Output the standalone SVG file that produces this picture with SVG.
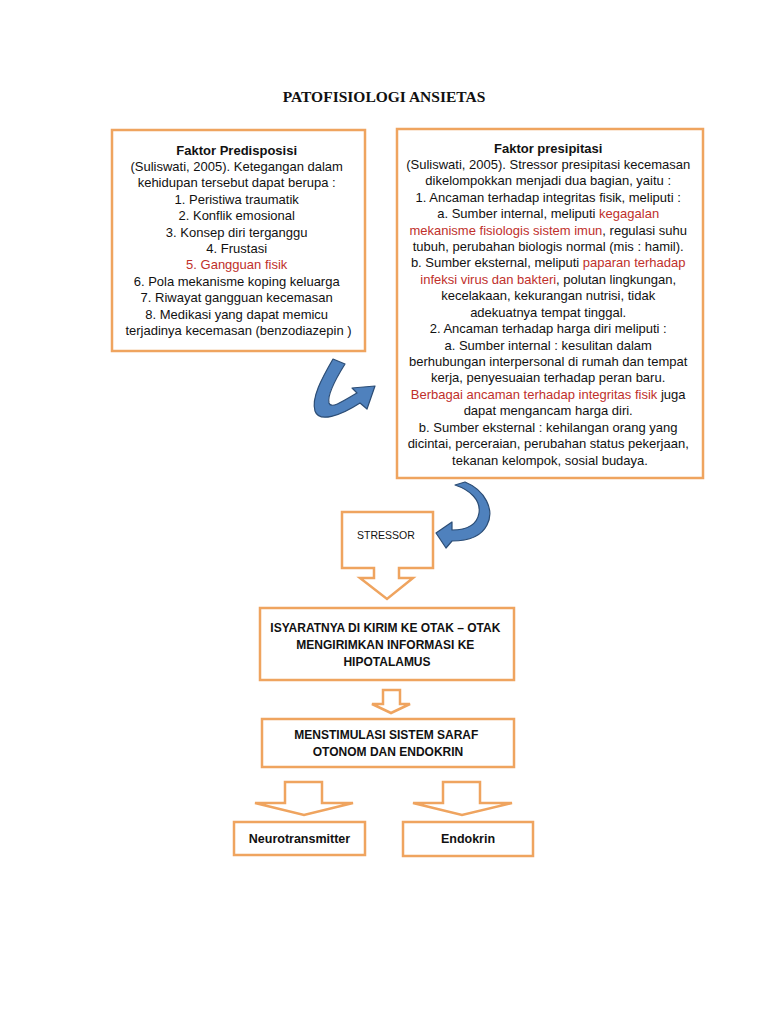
<svg xmlns="http://www.w3.org/2000/svg" width="768" height="1024" viewBox="0 0 768 1024">
<style>
.box{fill:#fff;stroke:#EFA45F;stroke-width:2.5}
.t{font-family:"Liberation Sans",Arial,sans-serif;font-size:13px;fill:#111;text-anchor:middle}
.b{font-weight:bold}
.r{fill:#C0302B}
.title{font-family:"Liberation Serif","Times New Roman",serif;font-size:15.5px;font-weight:bold;fill:#111;text-anchor:middle}
.cap{font-family:"Liberation Sans",Arial,sans-serif;font-size:12px;font-weight:bold;fill:#111;text-anchor:middle}
.curve{fill:#4F81BD;stroke:#2C4D75;stroke-width:1.2;stroke-linejoin:round}
</style>
<rect width="768" height="1024" fill="#fff"/>
<text class="title" x="384" y="102">PATOFISIOLOGI ANSIETAS</text>

<g id="predisposisi">
<rect class="box" x="112" y="130" width="253" height="221"/>
<text class="t">
<tspan class="b" x="238.5" y="154.5">Faktor Predisposisi</tspan>
<tspan x="238.5" y="171">(Suliswati, 2005). Ketegangan dalam</tspan>
<tspan x="238.5" y="187.4">kehidupan tersebut dapat berupa :</tspan>
<tspan x="238.5" y="203.8">1. Peristiwa traumatik</tspan>
<tspan x="238.5" y="220.2">2. Konflik emosional</tspan>
<tspan x="238.5" y="236.6">3. Konsep diri terganggu</tspan>
<tspan x="238.5" y="253">4. Frustasi</tspan>
<tspan class="r" x="238.5" y="269.4">5. Gangguan fisik</tspan>
<tspan x="238.5" y="285.8">6. Pola mekanisme koping keluarga</tspan>
<tspan x="238.5" y="302.2">7. Riwayat gangguan kecemasan</tspan>
<tspan x="238.5" y="318.6">8. Medikasi yang dapat memicu</tspan>
<tspan x="238.5" y="335">terjadinya kecemasan (benzodiazepin )</tspan>
</text>
</g>

<g id="presipitasi">
<rect class="box" x="397" y="129" width="306" height="349"/>
<text class="t">
<tspan class="b" x="550" y="152.5">Faktor presipitasi</tspan>
<tspan x="550" y="168.9">(Suliswati, 2005). Stressor presipitasi kecemasan</tspan>
<tspan x="550" y="185.3">dikelompokkan menjadi dua bagian, yaitu :</tspan>
<tspan x="550" y="201.8">1. Ancaman terhadap integritas fisik, meliputi :</tspan>
<tspan x="550" y="218.2">a. Sumber internal, meliputi <tspan class="r">kegagalan</tspan></tspan>
<tspan x="550" y="234.6"><tspan class="r">mekanisme fisiologis sistem imun</tspan>, regulasi suhu</tspan>
<tspan x="550" y="251">tubuh, perubahan biologis normal (mis : hamil).</tspan>
<tspan x="550" y="267.4">b. Sumber eksternal, meliputi <tspan class="r">paparan terhadap</tspan></tspan>
<tspan x="550" y="283.9"><tspan class="r">infeksi virus dan bakteri</tspan>, polutan lingkungan,</tspan>
<tspan x="550" y="300.3">kecelakaan, kekurangan nutrisi, tidak</tspan>
<tspan x="550" y="316.7">adekuatnya tempat tinggal.</tspan>
<tspan x="550" y="333.1">2. Ancaman terhadap harga diri meliputi :</tspan>
<tspan x="550" y="349.5">a. Sumber internal : kesulitan dalam</tspan>
<tspan x="550" y="366">berhubungan interpersonal di rumah dan tempat</tspan>
<tspan x="550" y="382.4">kerja, penyesuaian terhadap peran baru.</tspan>
<tspan x="550" y="398.8"><tspan class="r">Berbagai ancaman terhadap integritas fisik</tspan> juga</tspan>
<tspan x="550" y="415.2">dapat mengancam harga diri.</tspan>
<tspan x="550" y="431.6">b. Sumber eksternal : kehilangan orang yang</tspan>
<tspan x="550" y="448.1">dicintai, perceraian, perubahan status pekerjaan,</tspan>
<tspan x="550" y="464.5">tekanan kelompok, sosial budaya.</tspan>
</text>
</g>

<g id="stressor">
<path class="box" d="M342,512 H433 V568 H399 V578 H413 L387,599 L360,578 H374 V568 H342 Z"/>
<text class="t" x="386" y="539" style="font-size:10.5px">STRESSOR</text>
</g>

<g id="isyarat">
<rect class="box" x="260" y="608" width="254" height="72"/>
<text class="cap">
<tspan x="387" y="632">ISYARATNYA DI KIRIM KE OTAK – OTAK</tspan>
<tspan x="387" y="649">MENGIRIMKAN INFORMASI KE</tspan>
<tspan x="387" y="666">HIPOTALAMUS</tspan>
</text>
</g>

<g id="menstimulasi">
<rect class="box" x="262" y="719" width="252" height="48"/>
<text class="cap">
<tspan x="388" y="739">MENSTIMULASI SISTEM SARAF</tspan>
<tspan x="388" y="756">OTONOM DAN ENDOKRIN</tspan>
</text>
</g>

<g id="neurotransmitter">
<rect class="box" x="234" y="822" width="131" height="33"/>
<text class="t b" x="299.5" y="843" style="font-size:12.5px">Neurotransmitter</text>
</g>

<g id="endokrin">
<rect class="box" x="403" y="822" width="130" height="34"/>
<text class="t b" x="468" y="843" style="font-size:12.5px">Endokrin</text>
</g>

<g id="connectors">
<path class="curve" d="M333,359 C322,378 311,398 315,411 C319,423 340,416 360,403 L367,409 L375,386 L352,388 L357,393 C342,402 331,409 329,403 C327,395 335,380 345,364 Z"/>
<path class="curve" d="M465,482 C485,490 495,510 487,525 C481,537 468,541 452,541 L446,548 L436,533 L452,522 L452,530 C466,530 477,525 479,513 C481,500 470,490 455,485 Z"/>
<path class="box" d="M383,690 H400 V704 H410 L391,713 L372,704 H383 Z"/>
<path class="box" d="M285,782 H322 V803 H353 L304,815 L255,803 H285 Z"/>
<path class="box" d="M443,782 H480 V803 H512 L462,815 L413,803 H443 Z"/>
</g>
</svg>
